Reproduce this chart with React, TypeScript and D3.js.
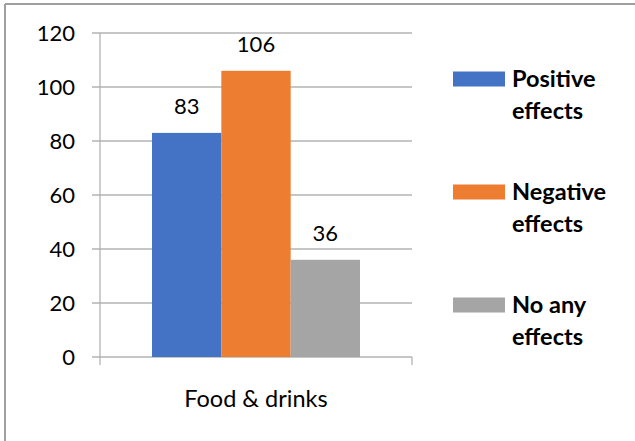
import React from "react";
import * as d3 from "d3";

const categories = ["Food & drinks"];
const seriesNames = ["Positive effects", "Negative effects", "No any effects"];
const legendLines = [["Positive", "effects"], ["Negative", "effects"], ["No any", "effects"]];
const positiveValues = [83];
const negativeValues = [106];
const noEffectValues = [36];
const yTicks = [0, 20, 40, 60, 80, 100, 120];
const colors = ["#4472C4", "#ED7D31", "#A5A5A5"];

export default function App() {
  const W = 635, H = 441;
  const left = 100, right = 412, top = 33, bottom = 357;
  const font = "Lato, 'Open Sans', sans-serif";
  const y = d3.scaleLinear().domain([0, 120]).range([bottom, top]);
  const x0 = d3.scaleBand().domain(categories).range([left, right]).paddingInner(0).paddingOuter(0);
  const series = [positiveValues, negativeValues, noEffectValues];
  const bw = x0.bandwidth();
  const groupW = bw * (2 / 3);
  const x1 = d3.scaleBand().domain(seriesNames).range([0, groupW]).padding(0);

  return (
    <svg width={W} height={H} style={{ position: "absolute", left: 0, top: 0, background: "#fff" }}>
      <rect x={0} y={0} width={W} height={H} fill="#fff" />
      <line x1={5} y1={4} x2={W} y2={4} stroke="#a0a0a0" strokeWidth={2} />
      <line x1={5} y1={4} x2={5} y2={H} stroke="#a0a0a0" strokeWidth={2} />
      {yTicks.map((t) => (
        <g key={t}>
          <line x1={left - 8} x2={right} y1={y(t)} y2={y(t)} stroke="#b3b3b3" strokeWidth={1.3} />
          <text x={75} y={y(t)} dy="0.36em" textAnchor="end" fontFamily={font} fontSize={22} fill="#000">{t}</text>
        </g>
      ))}
      <line x1={left} x2={left} y1={top} y2={bottom + 8} stroke="#b3b3b3" strokeWidth={1.3} />
      <line x1={right} x2={right} y1={bottom} y2={bottom + 8} stroke="#b3b3b3" strokeWidth={1.3} />
      {categories.map((c, ci) => {
        const gx = (x0(c) as number) + (bw - groupW) / 2;
        return (
          <g key={c}>
            {series.map((vals, si) => {
              const v = vals[ci];
              const bx = gx + (x1(seriesNames[si]) as number);
              return (
                <g key={si}>
                  <rect x={bx} y={y(v)} width={x1.bandwidth()} height={bottom - y(v)} fill={colors[si]} />
                  <text x={bx + x1.bandwidth() / 2} y={y(v) - 19} textAnchor="middle" fontFamily={font} fontSize={22} fill="#000">{v}</text>
                </g>
              );
            })}
            <text x={(x0(c) as number) + bw / 2} y={407} textAnchor="middle" fontFamily={font} fontSize={23.5} fill="#000">{c}</text>
          </g>
        );
      })}
      {seriesNames.map((s, i) => {
        const cy = 79 + i * 113;
        return (
          <g key={s}>
            <rect x={453} y={cy - 7.5} width={52} height={15} fill={colors[i]} />
            <text x={512} y={cy} dy="0.36em" fontFamily={font} fontWeight="bold" fontSize={23.5} fill="#000">{legendLines[i][0]}</text>
            <text x={512} y={cy + 32} dy="0.36em" fontFamily={font} fontWeight="bold" fontSize={23.5} fill="#000">{legendLines[i][1]}</text>
          </g>
        );
      })}
    </svg>
  );
}
